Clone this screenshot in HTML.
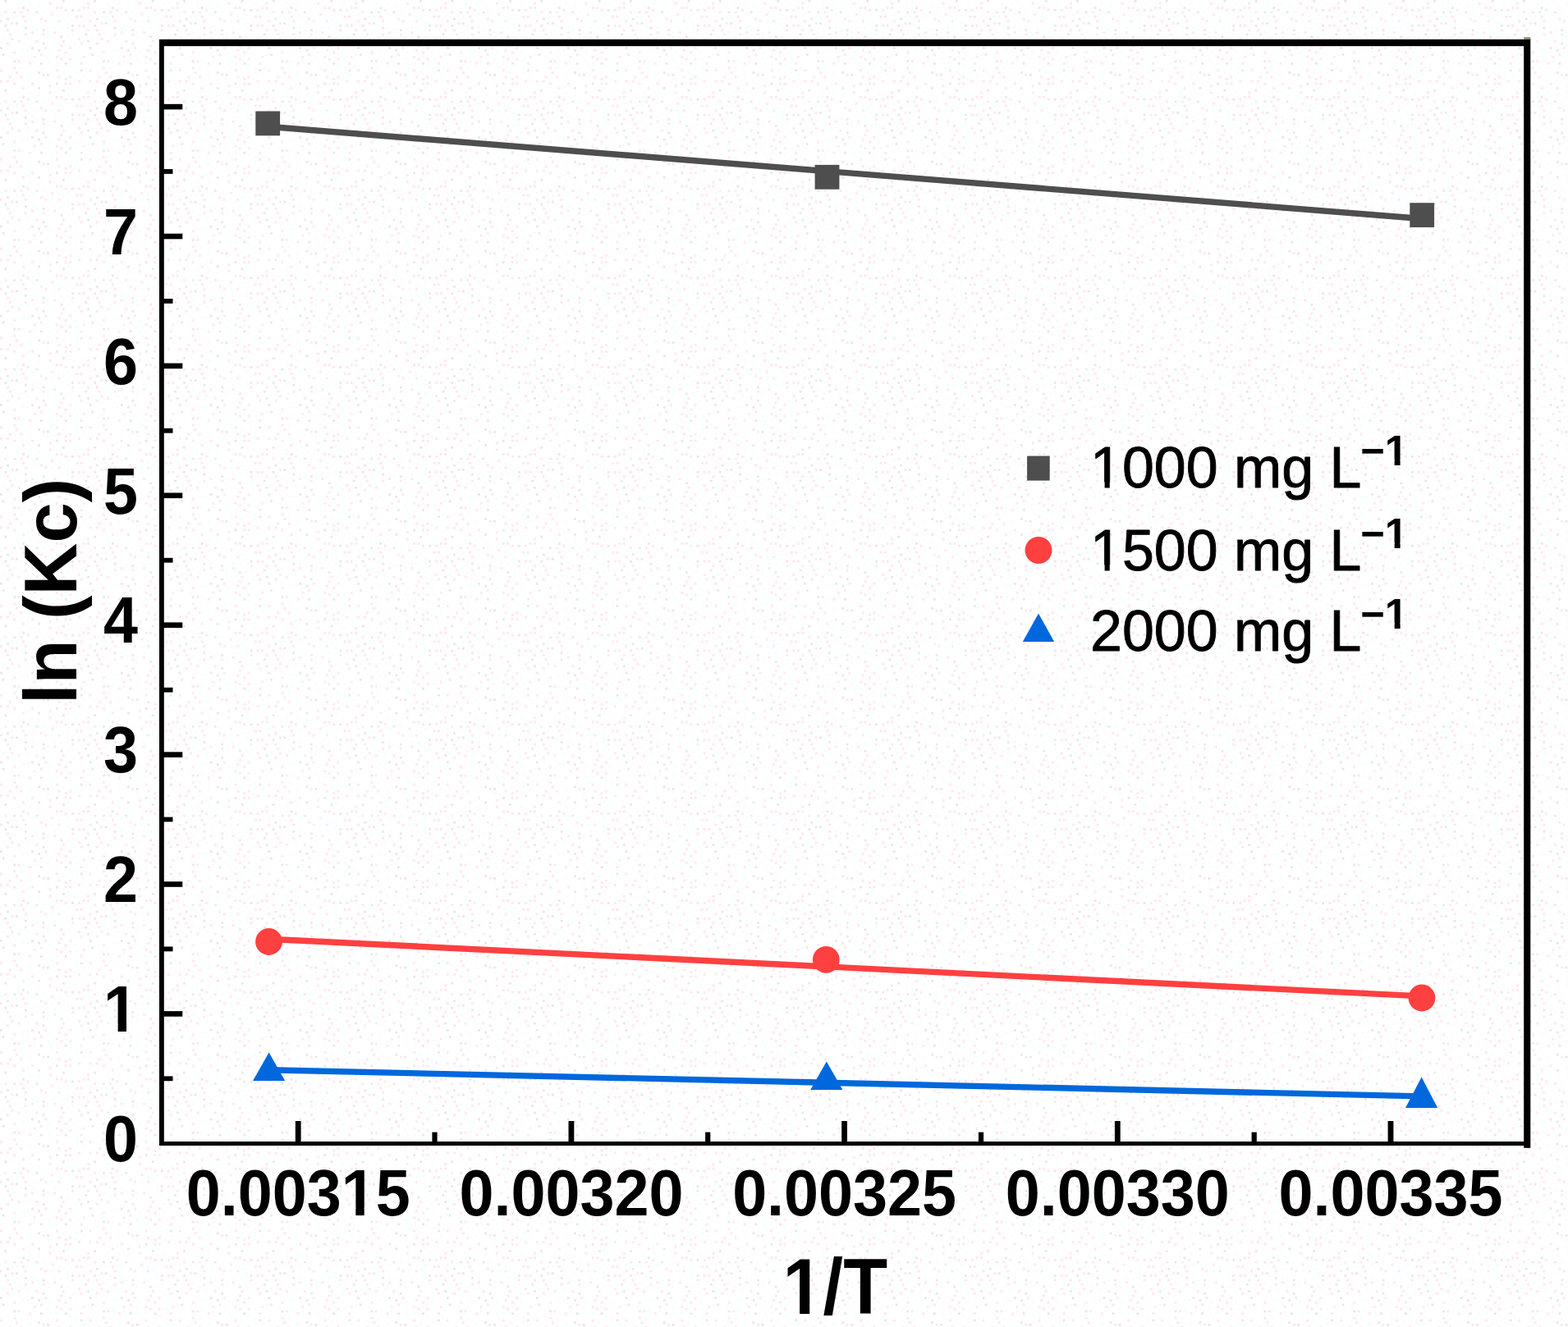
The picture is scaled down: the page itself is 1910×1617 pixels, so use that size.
<!DOCTYPE html>
<html lang="en"><head><meta charset="utf-8"><title>ln (Kc) vs 1/T</title>
<style>
html,body{margin:0;padding:0;background:#fff;}
body{width:1910px;height:1617px;overflow:hidden;}
svg{display:block;}
text{font-family:'Liberation Sans', Arial, Helvetica, sans-serif;fill:#000;font-kerning:none;}
.b{font-weight:700;}
.lg{stroke:#000;stroke-width:0.9px;stroke-linejoin:round;}
.sp{font-weight:700;stroke:none;}
</style></head><body>
<svg width="1910" height="1617" viewBox="0 0 1910 1617" role="img" aria-label="ln (Kc) versus 1/T">
<defs><pattern id="dots" width="108.80" height="108.80" patternUnits="userSpaceOnUse">
<path fill="#ffe3ee" d="M54.40 24.48h2.72v2.72h-2.72zM68.00 8.16h2.72v2.72h-2.72zM10.88 92.48h2.72v2.72h-2.72zM16.32 62.56h2.72v2.72h-2.72zM100.64 8.16h2.72v2.72h-2.72zM87.04 35.36h2.72v2.72h-2.72zM5.44 13.60h2.72v2.72h-2.72zM73.44 70.72h2.72v2.72h-2.72zM10.88 40.80h2.72v2.72h-2.72zM73.44 8.16h2.72v2.72h-2.72zM97.92 19.04h2.72v2.72h-2.72zM38.08 100.64h2.72v2.72h-2.72zM8.16 97.92h2.72v2.72h-2.72zM100.64 68.00h2.72v2.72h-2.72zM21.76 48.96h2.72v2.72h-2.72zM70.72 24.48h2.72v2.72h-2.72zM92.48 19.04h2.72v2.72h-2.72zM97.92 51.68h2.72v2.72h-2.72zM95.20 29.92h2.72v2.72h-2.72zM16.32 100.64h2.72v2.72h-2.72zM62.56 16.32h2.72v2.72h-2.72zM95.20 10.88h2.72v2.72h-2.72zM106.08 35.36h2.72v2.72h-2.72zM84.32 92.48h2.72v2.72h-2.72zM73.44 54.40h2.72v2.72h-2.72zM78.88 100.64h2.72v2.72h-2.72zM78.88 62.56h2.72v2.72h-2.72zM51.68 40.80h2.72v2.72h-2.72zM29.92 40.80h2.72v2.72h-2.72zM51.68 89.76h2.72v2.72h-2.72zM84.32 57.12h2.72v2.72h-2.72zM76.16 48.96h2.72v2.72h-2.72zM19.04 87.04h2.72v2.72h-2.72zM84.32 70.72h2.72v2.72h-2.72zM95.20 97.92h2.72v2.72h-2.72zM54.40 57.12h2.72v2.72h-2.72zM59.84 103.36h2.72v2.72h-2.72zM84.32 100.64h2.72v2.72h-2.72zM78.88 10.88h2.72v2.72h-2.72zM13.60 46.24h2.72v2.72h-2.72zM8.16 51.68h2.72v2.72h-2.72zM97.92 76.16h2.72v2.72h-2.72zM48.96 65.28h2.72v2.72h-2.72zM59.84 2.72h2.72v2.72h-2.72zM27.20 106.08h2.72v2.72h-2.72zM8.16 35.36h2.72v2.72h-2.72zM48.96 21.76h2.72v2.72h-2.72zM40.80 68.00h2.72v2.72h-2.72zM68.00 84.32h2.72v2.72h-2.72zM13.60 27.20h2.72v2.72h-2.72zM95.20 46.24h2.72v2.72h-2.72zM21.76 73.44h2.72v2.72h-2.72zM70.72 59.84h2.72v2.72h-2.72zM65.28 38.08h2.72v2.72h-2.72zM24.48 13.60h2.72v2.72h-2.72zM29.92 24.48h2.72v2.72h-2.72zM38.08 38.08h2.72v2.72h-2.72zM0.00 84.32h2.72v2.72h-2.72zM100.64 29.92h2.72v2.72h-2.72zM43.52 48.96h2.72v2.72h-2.72zM0.00 24.48h2.72v2.72h-2.72zM70.72 92.48h2.72v2.72h-2.72zM106.08 8.16h2.72v2.72h-2.72zM78.88 95.20h2.72v2.72h-2.72zM68.00 68.00h2.72v2.72h-2.72zM16.32 81.60h2.72v2.72h-2.72zM32.64 10.88h2.72v2.72h-2.72zM35.36 76.16h2.72v2.72h-2.72zM27.20 19.04h2.72v2.72h-2.72zM0.00 97.92h2.72v2.72h-2.72zM24.48 92.48h2.72v2.72h-2.72zM106.08 2.72h2.72v2.72h-2.72z"/>
<path fill="#f0ffff" d="M106.08 65.28h2.72v2.72h-2.72zM24.48 43.52h2.72v2.72h-2.72zM62.56 81.60h2.72v2.72h-2.72zM19.04 19.04h2.72v2.72h-2.72zM84.32 78.88h2.72v2.72h-2.72zM51.68 13.60h2.72v2.72h-2.72zM57.12 43.52h2.72v2.72h-2.72zM81.60 27.20h2.72v2.72h-2.72zM89.76 2.72h2.72v2.72h-2.72zM35.36 89.76h2.72v2.72h-2.72zM62.56 24.48h2.72v2.72h-2.72zM89.76 51.68h2.72v2.72h-2.72zM89.76 62.56h2.72v2.72h-2.72zM27.20 59.84h2.72v2.72h-2.72zM92.48 87.04h2.72v2.72h-2.72zM57.12 38.08h2.72v2.72h-2.72zM38.08 32.64h2.72v2.72h-2.72zM2.72 46.24h2.72v2.72h-2.72zM81.60 43.52h2.72v2.72h-2.72zM32.64 103.36h2.72v2.72h-2.72zM59.84 76.16h2.72v2.72h-2.72zM59.84 62.56h2.72v2.72h-2.72zM16.32 38.08h2.72v2.72h-2.72zM81.60 32.64h2.72v2.72h-2.72zM81.60 106.08h2.72v2.72h-2.72zM13.60 19.04h2.72v2.72h-2.72zM65.28 32.64h2.72v2.72h-2.72zM13.60 68.00h2.72v2.72h-2.72zM78.88 68.00h2.72v2.72h-2.72zM103.36 81.60h2.72v2.72h-2.72zM21.76 2.72h2.72v2.72h-2.72zM0.00 16.32h2.72v2.72h-2.72zM73.44 32.64h2.72v2.72h-2.72zM35.36 2.72h2.72v2.72h-2.72zM43.52 35.36h2.72v2.72h-2.72zM92.48 70.72h2.72v2.72h-2.72zM21.76 8.16h2.72v2.72h-2.72zM100.64 89.76h2.72v2.72h-2.72zM24.48 29.92h2.72v2.72h-2.72zM24.48 81.60h2.72v2.72h-2.72zM89.76 95.20h2.72v2.72h-2.72zM81.60 16.32h2.72v2.72h-2.72zM46.24 5.44h2.72v2.72h-2.72zM32.64 46.24h2.72v2.72h-2.72zM76.16 87.04h2.72v2.72h-2.72zM92.48 81.60h2.72v2.72h-2.72zM87.04 40.80h2.72v2.72h-2.72zM76.16 21.76h2.72v2.72h-2.72zM70.72 19.04h2.72v2.72h-2.72zM68.00 76.16h2.72v2.72h-2.72zM40.80 73.44h2.72v2.72h-2.72zM38.08 16.32h2.72v2.72h-2.72zM27.20 73.44h2.72v2.72h-2.72zM57.12 70.72h2.72v2.72h-2.72zM32.64 59.84h2.72v2.72h-2.72zM57.12 95.20h2.72v2.72h-2.72z"/>
<path fill="#e6e6e6" d="M78.88 76.16h2.72v2.72h-2.72zM2.72 65.28h2.72v2.72h-2.72zM57.12 89.76h2.72v2.72h-2.72zM106.08 48.96h2.72v2.72h-2.72zM87.04 10.88h2.72v2.72h-2.72zM16.32 13.60h2.72v2.72h-2.72zM5.44 29.92h2.72v2.72h-2.72zM73.44 43.52h2.72v2.72h-2.72zM97.92 84.32h2.72v2.72h-2.72zM43.52 13.60h2.72v2.72h-2.72zM0.00 57.12h2.72v2.72h-2.72zM46.24 106.08h2.72v2.72h-2.72zM19.04 27.20h2.72v2.72h-2.72zM29.92 32.64h2.72v2.72h-2.72zM51.68 51.68h2.72v2.72h-2.72zM48.96 76.16h2.72v2.72h-2.72zM87.04 29.92h2.72v2.72h-2.72zM46.24 59.84h2.72v2.72h-2.72zM5.44 0.00h2.72v2.72h-2.72zM16.32 73.44h2.72v2.72h-2.72zM51.68 35.36h2.72v2.72h-2.72zM38.08 57.12h2.72v2.72h-2.72zM8.16 21.76h2.72v2.72h-2.72zM27.20 8.16h2.72v2.72h-2.72zM103.36 40.80h2.72v2.72h-2.72zM76.16 0.00h2.72v2.72h-2.72zM46.24 87.04h2.72v2.72h-2.72zM68.00 100.64h2.72v2.72h-2.72z"/>
</pattern></defs>
<rect x="0" y="0" width="1910" height="1617" fill="#ffffff"/>
<rect x="0" y="0" width="1910" height="1617" fill="url(#dots)"/>
<line x1="326.2" y1="154.3" x2="1732.2" y2="266.5" stroke="#4e4e4e" stroke-width="7.4"/>
<line x1="327.0" y1="1144.2" x2="1732.0" y2="1213.9" stroke="#ff4040" stroke-width="7.4"/>
<line x1="327.6" y1="1303.7" x2="1732.0" y2="1335.9" stroke="#0068dc" stroke-width="7.4"/>
<rect x="311.3" y="135.5" width="29.8" height="29.8" fill="#4e4e4e"/>
<rect x="992.6" y="200.9" width="29.8" height="29.8" fill="#4e4e4e"/>
<rect x="1717.3" y="247.2" width="29.8" height="29.8" fill="#4e4e4e"/>
<circle cx="327.5" cy="1147.5" r="16.4" fill="#ff4040"/>
<circle cx="1006.3" cy="1169.4" r="16.4" fill="#ff4040"/>
<circle cx="1732.0" cy="1216.0" r="16.4" fill="#ff4040"/>
<polygon points="327.6,1282.5 308.0,1317.0 347.2,1317.0" fill="#0068dc"/>
<polygon points="1006.8,1293.4 987.2,1327.9 1026.4,1327.9" fill="#0068dc"/>
<polygon points="1731.6,1312.5 1712.0,1349.9 1751.2,1349.9" fill="#0068dc"/>
<g fill="#000">
<rect x="194" y="48" width="5.8" height="1348"/>
<rect x="194" y="1391" width="1670" height="5"/>
<rect x="194" y="48" width="1670" height="8.2"/>
<rect x="1856.2" y="48" width="8.1" height="1350.8"/>
<rect x="1856.2" y="45.3" width="8.1" height="2.8" fill="#8f8b66"/>
<rect x="199" y="1311.4" width="11.5" height="5.8"/>
<rect x="199" y="1232.1" width="23.3" height="6.6"/>
<rect x="199" y="1153.5" width="11.5" height="5.8"/>
<rect x="199" y="1074.2" width="23.3" height="6.6"/>
<rect x="199" y="995.6" width="11.5" height="5.8"/>
<rect x="199" y="916.3" width="23.3" height="6.6"/>
<rect x="199" y="837.8" width="11.5" height="5.8"/>
<rect x="199" y="758.4" width="23.3" height="6.6"/>
<rect x="199" y="679.8" width="11.5" height="5.8"/>
<rect x="199" y="600.5" width="23.3" height="6.6"/>
<rect x="199" y="521.9" width="11.5" height="5.8"/>
<rect x="199" y="442.6" width="23.3" height="6.6"/>
<rect x="199" y="364.0" width="11.5" height="5.8"/>
<rect x="199" y="284.7" width="23.3" height="6.6"/>
<rect x="199" y="206.1" width="11.5" height="5.8"/>
<rect x="199" y="126.8" width="23.3" height="6.6"/>
<rect x="359.8" y="1366" width="6.8" height="26"/>
<rect x="526.4" y="1379.6" width="6.2" height="12"/>
<rect x="692.5" y="1366" width="6.8" height="26"/>
<rect x="859.1" y="1379.6" width="6.2" height="12"/>
<rect x="1025.2" y="1366" width="6.8" height="26"/>
<rect x="1191.9" y="1379.6" width="6.2" height="12"/>
<rect x="1357.9" y="1366" width="6.8" height="26"/>
<rect x="1524.6" y="1379.6" width="6.2" height="12"/>
<rect x="1690.6" y="1366" width="6.8" height="26"/>
</g>
<text class="b" font-size="80" text-anchor="end" transform="translate(168.00 1415.00) scale(0.944 1)">0</text>
<text class="b" font-size="80" text-anchor="end" transform="translate(168.00 1257.10) scale(0.944 1)">1</text>
<text class="b" font-size="80" text-anchor="end" transform="translate(168.00 1099.20) scale(0.944 1)">2</text>
<text class="b" font-size="80" text-anchor="end" transform="translate(168.00 941.30) scale(0.944 1)">3</text>
<text class="b" font-size="80" text-anchor="end" transform="translate(168.00 783.40) scale(0.944 1)">4</text>
<text class="b" font-size="80" text-anchor="end" transform="translate(168.00 625.50) scale(0.944 1)">5</text>
<text class="b" font-size="80" text-anchor="end" transform="translate(168.00 467.60) scale(0.944 1)">6</text>
<text class="b" font-size="80" text-anchor="end" transform="translate(168.00 309.70) scale(0.944 1)">7</text>
<text class="b" font-size="80" text-anchor="end" transform="translate(168.00 151.80) scale(0.944 1)">8</text>
<text class="b" font-size="80" text-anchor="middle" transform="translate(363.20 1481.40) scale(0.944 1)">0.00315</text>
<text class="b" font-size="80" text-anchor="middle" transform="translate(695.90 1481.40) scale(0.944 1)">0.00320</text>
<text class="b" font-size="80" text-anchor="middle" transform="translate(1028.60 1481.40) scale(0.944 1)">0.00325</text>
<text class="b" font-size="80" text-anchor="middle" transform="translate(1361.30 1481.40) scale(0.944 1)">0.00330</text>
<text class="b" font-size="80" text-anchor="middle" transform="translate(1694.00 1481.40) scale(0.944 1)">0.00335</text>
<text class="b" font-size="91.5" text-anchor="middle" transform="translate(93.30 720.50) rotate(-90) scale(0.967 1)">ln (Kc)</text>
<text class="b" font-size="95.5" text-anchor="middle" transform="translate(1017.30 1600.90) scale(0.925 1)">1/T</text>
<rect x="1251.1" y="555.6" width="27.6" height="30" fill="#4e4e4e"/>
<circle cx="1265" cy="670.5" r="16.5" fill="#ff4040"/>
<polygon points="1265,747.5 1245.8,782 1284.2,782" fill="#0068dc"/>
<text class="lg" font-size="71" transform="translate(1328.00 593.90) scale(0.985 1)">1000 mg L<tspan class="sp" font-size="51.5" dx="-1.3" dy="-27.2">−1</tspan></text>
<text class="lg" font-size="71" transform="translate(1328.00 694.80) scale(0.985 1)">1500 mg L<tspan class="sp" font-size="51.5" dx="-1.3" dy="-27.2">−1</tspan></text>
<text class="lg" font-size="71" transform="translate(1328.00 792.90) scale(0.985 1)">2000 mg L<tspan class="sp" font-size="51.5" dx="-1.3" dy="-27.2">−1</tspan></text>
<g fill="#fff">
<rect x="129.56" y="1247.74" width="14.07" height="10.56"/>
<rect x="153.99" y="1247.74" width="13.11" height="10.56"/>
<rect x="419.25" y="1472.04" width="14.07" height="10.56"/>
<rect x="443.68" y="1472.04" width="13.11" height="10.56"/>
<rect x="957.85" y="1589.95" width="16.25" height="12.15"/>
<rect x="986.22" y="1589.95" width="15.13" height="12.15"/>
<rect x="1332.13" y="587.40" width="13.46" height="7.70"/>
<rect x="1351.77" y="587.40" width="12.91" height="7.70"/>
<rect x="1688.80" y="560.24" width="9.84" height="7.66"/>
<rect x="1705.61" y="560.24" width="9.20" height="7.66"/>
<rect x="1332.13" y="688.30" width="13.46" height="7.70"/>
<rect x="1351.77" y="688.30" width="12.91" height="7.70"/>
<rect x="1688.80" y="661.14" width="9.84" height="7.66"/>
<rect x="1705.61" y="661.14" width="9.20" height="7.66"/>
<rect x="1688.80" y="759.24" width="9.84" height="7.66"/>
<rect x="1705.61" y="759.24" width="9.20" height="7.66"/>
</g>
</svg>
</body></html>
